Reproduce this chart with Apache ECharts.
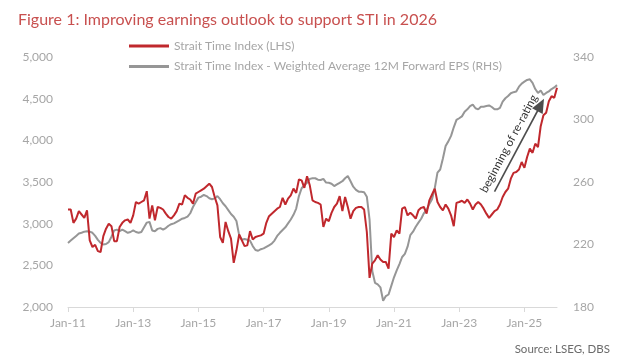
<!DOCTYPE html>
<html><head><meta charset="utf-8">
<script src="https://cdn.jsdelivr.net/npm/echarts@6/dist/echarts.min.js"></script>
<style>html,body{margin:0;padding:0;background:#fff}#c{width:620px;height:361px}</style>
</head><body><div id="c"></div>
<script>
// Month categories Jan-11 .. Jan-26
const monthNames = ['Jan','Feb','Mar','Apr','May','Jun','Jul','Aug','Sep','Oct','Nov','Dec'];
const categories = [];
for (let y = 2011; y <= 2026; y++) {
  for (let m = 0; m < 12; m++) {
    if (y === 2026 && m > 0) break;
    categories.push(monthNames[m] + '-' + String(y).slice(2));
  }
}
// Strait Time Index (LHS)
const sti = [
3170,3170,3010,3060,3150,3110,3070,3160,2800,2720,2745,2670,
2660,2850,2940,3000,2970,2790,2790,2960,3010,3040,3050,3010,
3100,3260,3240,3260,3280,3390,3060,3220,3040,3200,3190,3170,
3120,3080,3060,3100,3150,3240,3230,3340,3310,3290,3240,3360,
3380,3400,3420,3450,3480,3440,3320,3220,2840,2770,3020,2910,
2820,2530,2680,2870,2800,2730,2740,2910,2810,2840,2850,2860,
2880,3010,3090,3120,3150,3180,3200,3310,3230,3300,3340,3420,
3370,3530,3520,3430,3570,3460,3280,3260,3250,3230,2960,3060,
3030,3130,3200,3240,3330,3150,3320,3200,3060,3150,3190,3200,
3200,3170,2900,2350,2520,2560,2620,2570,2540,2540,2460,2880,
2840,2920,2880,3180,3200,3100,3130,3100,3060,3160,3190,3200,
3120,3280,3350,3420,3260,3200,3160,3230,3180,3100,2970,3250,
3260,3275,3250,3290,3240,3170,3230,3260,3230,3180,3120,3070,
3110,3150,3170,3230,3320,3380,3420,3540,3610,3620,3650,3740,
3670,3800,3900,3850,3960,3920,4170,4300,4330,4470,4530,4510,
4630
];
// Weighted Average 12M Forward EPS (RHS)
const eps = [
221,222.5,224,225.5,227,227.5,228.2,228.5,228.2,227.5,225.5,223,
221,220,220.3,221.5,225,229,229.5,228.5,229.5,228.5,227.5,228,
229,228,227.5,228,231,234,234.5,229,228.5,230,230.5,229.5,
230.5,232,233,233.5,234.5,235.5,236.5,237,237.8,240,244,247,
250,250.6,251.7,251,249.6,249,249.5,251,249,246.4,244.5,242,
239.5,237.8,235,226,223,223.5,223,222.5,219,216.5,216,217,
217.5,218.5,219.5,220.5,222.5,225.5,227.5,229.3,231,233.5,236,239,
243,251,256,258,259.5,262,262.4,262.4,261.5,261.3,262,259.6,
259.5,258.9,257.4,258.5,259.5,260.5,262.4,263.8,260.5,257,255,253.8,
253.8,253.5,250.6,236,203,195.5,194.5,192.6,184,187,188,193.5,
199,203.5,207.5,212,214,218.6,226,228.2,231.4,234,236.5,240,
242,246,249,256,266,268,275,283,286,289.5,295,299.7,
300.8,302,305,306.5,308.5,309.5,307.2,306.5,308.2,308.2,308.6,309,
308,306.5,306.5,307.5,311.5,313.6,315,316.8,317.5,317.9,321,323,
324.2,325.3,325.7,323.5,319.5,317,318.5,315.7,317,318,319.5,320.5,
322
];
const leftTicks = {min: 2000, max: 5000, interval: 500};
const rightTicks = {min: 180, max: 340, interval: 40};
// annotation arrow (data space: month category, LHS value)
const arrowStart = ['Feb-24', 3384];
const arrowEnd = ['Jul-25', 4424];

const FONT = 'Lato';
const chart = echarts.init(document.getElementById('c'));
chart.setOption({
  animation: false,
  textStyle: {fontFamily: FONT},
  title: {
    text: 'Figure 1: Improving earnings outlook to support STI in 2026',
    left: 13, top: 7,
    textStyle: {color: '#c8504f', fontSize: 16, fontWeight: 'normal', fontFamily: FONT}
  },
  legend: {
    orient: 'vertical', left: 124, top: 35, itemGap: 8.5,
    icon: 'rect', itemWidth: 40, itemHeight: 3,
    textStyle: {color: '#a6a6a6', fontSize: 12, fontFamily: FONT},
    data: ['Strait Time Index (LHS)', 'Strait Time Index - Weighted Average 12M Forward EPS (RHS)']
  },
  graphic: [{
    type: 'text', right: 10, top: 343,
    style: {text: 'Source: LSEG, DBS', fill: '#6b6b6b', font: '11.5px ' + FONT}
  }],
  grid: {left: 68, right: 63, top: 57, bottom: 54},
  xAxis: {
    type: 'category', data: categories, boundaryGap: false,
    axisLine: {lineStyle: {color: '#d9d9d9'}},
    axisTick: {interval: 23, length: 5, lineStyle: {color: '#d9d9d9'}},
    axisLabel: {interval: 23, color: '#a6a6a6', fontSize: 12, margin: 10},
    splitLine: {show: false}
  },
  yAxis: [{
    type: 'value', min: leftTicks.min, max: leftTicks.max, interval: leftTicks.interval,
    axisLine: {show: false}, axisTick: {show: false}, splitLine: {show: false},
    axisLabel: {color: '#a6a6a6', fontSize: 12, margin: 15,
      formatter: v => v.toLocaleString('en-US')}
  }, {
    type: 'value', min: rightTicks.min, max: rightTicks.max, interval: rightTicks.interval,
    axisLine: {show: false}, axisTick: {show: false}, splitLine: {show: false},
    axisLabel: {color: '#a6a6a6', fontSize: 12, margin: 16}
  }],
  series: [{
    name: 'Strait Time Index (LHS)', type: 'line', yAxisIndex: 0, data: sti,
    symbol: 'none', z: 3,
    lineStyle: {color: '#c0282d', width: 2}, itemStyle: {color: '#c0282d'},
    markLine: {
      silent: true, symbol: ['none', 'triangle'], symbolSize: [12, 14],
      lineStyle: {color: '#4d4d4d', width: 1.6, type: 'solid'},
      itemStyle: {color: '#4d4d4d'},
      label: {show: true, position: 'insideMiddleTop', formatter: 'beginning of re-rating',
        color: '#333', fontSize: 11.5, fontFamily: FONT, distance: 4},
      data: [[{coord: arrowStart}, {coord: arrowEnd}]]
    }
  }, {
    name: 'Strait Time Index - Weighted Average 12M Forward EPS (RHS)', type: 'line', yAxisIndex: 1, data: eps,
    symbol: 'none', z: 2,
    lineStyle: {color: '#969696', width: 2}, itemStyle: {color: '#969696'}
  }]
});
</script></body></html>
